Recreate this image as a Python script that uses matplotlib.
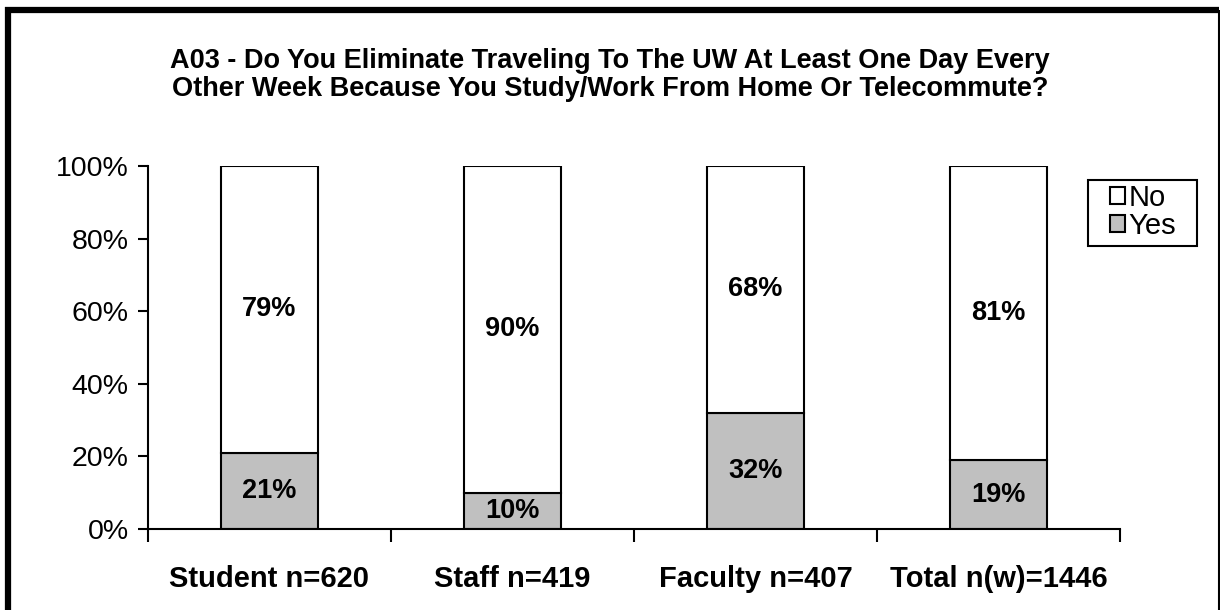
import matplotlib
matplotlib.use("Agg")
import matplotlib.pyplot as plt
from matplotlib.lines import Line2D
from matplotlib.patches import Patch, Rectangle
import numpy as np

# Datos
categorias = ["Student n=620", "Staff n=419", "Faculty n=407", "Total n(w)=1446"]
yes_vals = [21, 10, 32, 19]
no_vals = [79, 90, 68, 81]
titulo = ("A03 - Do You Eliminate Traveling To The UW At Least One Day Every\n"
          "Other Week Because You Study/Work From Home Or Telecommute?")

plt.rcParams["font.family"] = ["Liberation Sans", "DejaVu Sans"]

W, H = 1220, 610
fig = plt.figure(figsize=(12.2, 6.1), dpi=100)
ax = fig.add_axes([0.1213, 0.1328, 0.7967, 0.5951])

x = np.arange(len(categorias))
gris = "#C0C0C0"
ax.bar(x, yes_vals, width=0.4, color=gris, edgecolor="black", linewidth=1.5)
ax.bar(x, no_vals, width=0.4, bottom=yes_vals, color="white",
       edgecolor="black", linewidth=1.5)

for xi, y, n in zip(x, yes_vals, no_vals):
    ax.text(xi, y / 2, f"{y}%", ha="center", va="center",
            fontsize=19.5, fontweight="bold")
    ax.text(xi, y + n / 2, f"{n}%", ha="center", va="center",
            fontsize=19.5, fontweight="bold")

ax.set_xlim(-0.5, len(categorias) - 0.5)
ax.set_ylim(0, 100)
ax.set_yticks(range(0, 101, 20))
ax.set_yticklabels([f"{v}%" for v in range(0, 101, 20)], fontsize=20.5)
ax.set_xticks(x)
ax.set_xticklabels(categorias, fontsize=21, fontweight="bold")
ax.set_xticks(np.arange(-0.5, len(categorias)), minor=True)
ax.tick_params(axis="x", which="major", length=0, pad=26)
ax.tick_params(axis="x", which="minor", length=9, width=1.5, direction="out")
ax.tick_params(axis="y", length=7, width=1.5, direction="out", pad=7)

for side in ["top", "right"]:
    ax.spines[side].set_visible(False)
for side in ["left", "bottom"]:
    ax.spines[side].set_linewidth(1.5)

# Leyenda (caja dibujada aparte para imitar el relleno del original)
handles = [Patch(facecolor="white", edgecolor="black", linewidth=1.5, label="No"),
           Patch(facecolor=gris, edgecolor="black", linewidth=1.5, label="Yes")]
leg = fig.legend(handles=handles, loc="upper left",
                 bbox_to_anchor=(1110 / W, 1 - 184 / H),
                 fontsize=21, frameon=False,
                 handlelength=0.52, handleheight=0.52, handletextpad=0.12,
                 borderpad=0, labelspacing=0.0, borderaxespad=0)
fig.add_artist(Rectangle((1088 / W, 1 - 246 / H), 109 / W, 66 / H,
                         transform=fig.transFigure, facecolor="none",
                         edgecolor="black", linewidth=1.5))

fig.text(0.5, 1 - 75 / H, titulo, ha="center", va="center",
         fontsize=19.5, fontweight="bold", linespacing=1.1)

# Marco exterior
fig.add_artist(Line2D([8 / W, 8 / W], [0, 1 - 7 / H], color="black",
                      linewidth=4.5, solid_capstyle="butt",
                      transform=fig.transFigure))
fig.add_artist(Line2D([5 / W, 1219 / W], [1 - 10 / H, 1 - 10 / H],
                      color="black", linewidth=4.5, solid_capstyle="butt",
                      transform=fig.transFigure))
fig.add_artist(Line2D([1218.5 / W, 1218.5 / W], [0, 1 - 10 / H],
                      color="black", linewidth=1.5, solid_capstyle="butt",
                      transform=fig.transFigure))

fig.savefig("out.png", dpi=100)
